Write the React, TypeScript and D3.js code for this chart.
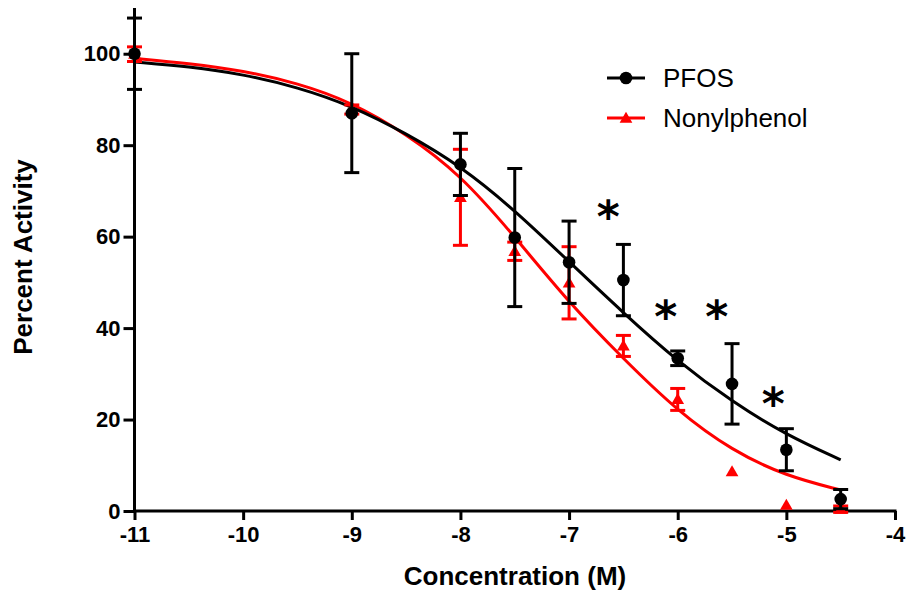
import React, { useEffect, useRef } from "react";
import * as d3 from "d3";

// log concentration (M) of each measured point
const concentrations = [-11, -9, -8, -7.5, -7, -6.5, -6, -5.5, -5, -4.5];
const pfosMean = [100, 87, 75.8, 59.8, 54.4, 50.5, 33.4, 27.8, 13.4, 2.6];
const pfosErr = [7.8, 13, 6.8, 15.1, 9, 7.8, 1.6, 8.8, 4.6, 2.1];
const nonylMean = [99.9, 87.8, 68.6, 56.8, 49.9, 36.1, 24.4, 8.6, 1.3, 0.4];
const nonylErr = [1.6, 1, 10.5, 2, 7.9, 2.3, 2.4, 0, 0, 0.7];

// fitted curves
const fitX = [-11, -10.5, -10, -9.5, -9, -8.5, -8, -7.5, -7, -6.5, -6, -5.5, -5, -4.5];
const pfosFit = [98.2, 97.2, 95.5, 92.7, 88.6, 82.6, 75.5, 65.8, 54.5, 43.3, 32.7, 23.9, 16.6, 11.2];
const nonylFit = [99.0, 97.9, 96.3, 93.6, 89.4, 82.5, 73.6, 60.0, 45.5, 33.3, 21.8, 13.2, 7.6, 4.6];

// significance markers
const starX = [-6.64, -6.11, -5.64, -5.12];
const starY = [66.3, 44.4, 44.4, 25.4];

const xTicks = [-11, -10, -9, -8, -7, -6, -5, -4];
const yTicks = [0, 20, 40, 60, 80, 100];

const series = [
  { name: "PFOS", color: "#000000", mean: pfosMean, err: pfosErr, fit: pfosFit, shape: "circle" },
  { name: "Nonylphenol", color: "#ff0000", mean: nonylMean, err: nonylErr, fit: nonylFit, shape: "triangle" },
];

const FONT = "'Liberation Sans', Arial, Helvetica, sans-serif";

export default function App() {
  const xAxisRef = useRef<SVGGElement>(null);
  const yAxisRef = useRef<SVGGElement>(null);

  const width = 908;
  const height = 595;
  const x = d3.scaleLinear().domain([-11, -4]).range([134.5, 895]);
  const y = d3.scaleLinear().domain([0, 110]).range([511, 8]);

  useEffect(() => {
    const xa = d3.select(xAxisRef.current);
    xa.selectAll("*").remove();
    xa.call(d3.axisBottom(x).tickValues(xTicks).tickFormat(d3.format("d")).tickSize(9).tickSizeOuter(0).tickPadding(6));
    xa.select(".domain").attr("stroke-width", 3).attr("d", `M${x(-11)},0H${x(-4) + 1.5}`);
    xa.selectAll(".tick line").attr("stroke-width", 3);
    xa.selectAll(".tick text")
      .attr("font-family", FONT)
      .attr("font-weight", "bold")
      .attr("font-size", 22)
      .attr("fill", "#000")
      .text((d: any) => (d < 0 ? "-" + Math.abs(d) : String(d)));

    const ya = d3.select(yAxisRef.current);
    ya.selectAll("*").remove();
    ya.call(d3.axisLeft(y).tickValues(yTicks).tickSize(11).tickSizeOuter(0).tickPadding(3));
    ya.select(".domain").attr("stroke-width", 3).attr("d", `M0,${y(0) + 1.5}V${y(110)}`);
    ya.selectAll(".tick line").attr("stroke-width", 3);
    ya.selectAll(".tick text")
      .attr("font-family", FONT)
      .attr("font-weight", "bold")
      .attr("font-size", 22)
      .attr("fill", "#000");
  }, []);

  const line = d3
    .line<number>()
    .x((_, i) => x(fitX[i]))
    .y((d) => y(d))
    .curve(d3.curveBasis);

  const tri = d3.symbol().type(d3.symbolTriangle).size(70);
  const capW = 7.5;

  const marker = (shape: string, color: string, cx: number, cy: number, key: string) =>
    shape === "circle" ? (
      <circle key={key} cx={cx} cy={cy} r={6.3} fill={color} />
    ) : (
      <path key={key} d={tri() as string} transform={`translate(${cx},${cy + 1})`} fill={color} />
    );

  // draw Nonylphenol first so PFOS sits on top
  const drawOrder = [series[1], series[0]];

  return (
    <svg
      width={width}
      height={height}
      style={{ position: "absolute", left: 0, top: 0, background: "#fff" }}
    >
      {drawOrder.map((s) => (
        <path key={s.name + "-fit"} d={line(s.fit) as string} fill="none" stroke={s.color} strokeWidth={3} />
      ))}

      <g ref={xAxisRef} transform={`translate(0,${y(0)})`} />
      <g ref={yAxisRef} transform={`translate(${x(-11)},0)`} />

      {drawOrder.map((s) => (
        <g key={s.name + "-pts"}>
          {concentrations.map((c, i) => {
            const cx = x(c);
            const top = y(s.mean[i] + s.err[i]);
            const bot = y(Math.max(s.mean[i] - s.err[i], -0.5));
            return (
              <g key={i}>
                {s.err[i] > 0 && (
                  <g stroke={s.color} strokeWidth={3}>
                    <line x1={cx} x2={cx} y1={top} y2={bot} />
                    <line x1={cx - capW} x2={cx + capW} y1={top} y2={top} />
                    <line x1={cx - capW} x2={cx + capW} y1={bot} y2={bot} />
                  </g>
                )}
                {marker(s.shape, s.color, cx, y(s.mean[i]), "m" + i)}
              </g>
            );
          })}
        </g>
      ))}

      {starX.map((sx, i) => (
        <text
          key={"star" + i}
          x={x(sx)}
          y={y(starY[i]) + 24}
          textAnchor="middle"
          fontFamily="'DejaVu Sans', sans-serif"
          fontWeight="bold"
          fontSize={44}
          fill="#000"
        >
          *
        </text>
      ))}

      {/* legend */}
      {series.map((s, i) => {
        const ly = 78 + i * 40;
        return (
          <g key={s.name + "-legend"}>
            <line x1={607} x2={645} y1={ly} y2={ly} stroke={s.color} strokeWidth={3} />
            {marker(s.shape, s.color, 626, ly, "lm" + i)}
            <text x={663} y={ly + 9} fontFamily={FONT} fontSize={26} fill="#000">
              {s.name}
            </text>
          </g>
        );
      })}

      <text
        x={515}
        y={585}
        textAnchor="middle"
        fontFamily={FONT}
        fontWeight="bold"
        fontSize={26}
        fill="#000"
      >
        Concentration (M)
      </text>
      <text
        transform={`translate(32,257) rotate(-90)`}
        textAnchor="middle"
        fontFamily={FONT}
        fontWeight="bold"
        fontSize={26}
        fill="#000"
      >
        Percent Activity
      </text>
    </svg>
  );
}
